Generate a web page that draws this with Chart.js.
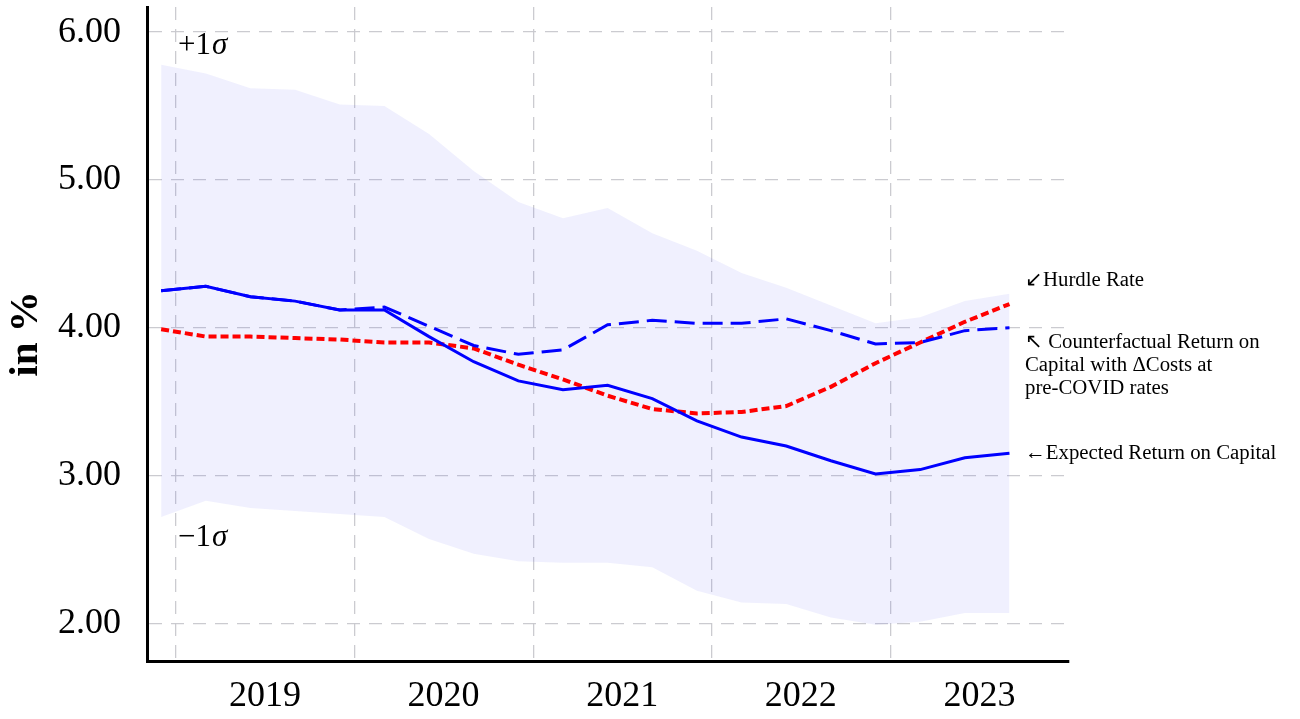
<!DOCTYPE html>
<html>
<head>
<meta charset="utf-8">
<script src="https://cdn.jsdelivr.net/npm/chart.js@4"></script>
<style>
  html, body { margin: 0; padding: 0; background: #ffffff; }
  #wrap { width: 1300px; height: 719px; position: relative; }
</style>
</head>
<body>
<div id="wrap"><canvas id="c"></canvas></div>
<script>
// ---- data ----
const dates = ['2018-12','2019-03','2019-06','2019-09','2019-12','2020-03','2020-06','2020-09','2020-12','2021-03',
               '2021-06','2021-09','2021-12','2022-03','2022-06','2022-09','2022-12','2023-03','2023-06','2023-09'];
const expectedReturn = [4.25, 4.28, 4.21, 4.18, 4.12, 4.12, 3.94, 3.77, 3.64, 3.58,
                        3.61, 3.52, 3.37, 3.26, 3.20, 3.10, 3.01, 3.04, 3.12, 3.15];
const counterfactualReturn = [4.25, 4.28, 4.21, 4.18, 4.12, 4.14, 4.01, 3.88, 3.82, 3.85,
                              4.02, 4.05, 4.03, 4.03, 4.06, 3.98, 3.89, 3.90, 3.98, 4.00];
const hurdleRate = [3.99, 3.94, 3.94, 3.93, 3.92, 3.90, 3.90, 3.86, 3.75, 3.65,
                    3.54, 3.45, 3.42, 3.43, 3.47, 3.60, 3.76, 3.90, 4.04, 4.16];
const bandUpper = [5.78, 5.72, 5.62, 5.61, 5.51, 5.50, 5.31, 5.06, 4.85, 4.74,
                   4.81, 4.64, 4.52, 4.37, 4.27, 4.15, 4.03, 4.07, 4.18, 4.23];
const bandLower = [2.72, 2.83, 2.78, 2.76, 2.74, 2.72, 2.57, 2.47, 2.42, 2.41,
                   2.41, 2.38, 2.22, 2.14, 2.13, 2.04, 1.99, 2.01, 2.07, 2.07];
const yearTicks = [2019, 2020, 2021, 2022, 2023];
const yTicks = [2, 3, 4, 5, 6];
const labelHurdle = '↙Hurdle Rate';
const labelCounterfactual = ['↖ Counterfactual Return on', 'Capital with ΔCosts at', 'pre-COVID rates'];
const labelExpected = '←Expected Return on Capital';
const labelPlus = ['+1', 'σ'];
const labelMinus = ['−1', 'σ'];

// ---- helpers ----
const toYear = s => { const [y, m] = s.split('-').map(Number); return y + (m - 1) / 12; };
const xs = dates.map(toYear);
const pts = arr => arr.map((v, i) => ({ x: xs[i], y: v }));

const SERIF = '"Liberation Serif", "Times New Roman", serif';

const annotPlugin = {
  id: 'annot',
  afterDatasetsDraw(chart) {
    const { ctx, chartArea } = chart;
    const xS = chart.scales.x, yS = chart.scales.y;
    ctx.save();
    ctx.fillStyle = '#000';
    ctx.textBaseline = 'alphabetic';
    ctx.textAlign = 'left';
    const drawSigma = (parts, x, y) => {
      ctx.font = '31px ' + SERIF;
      ctx.fillText(parts[0], x, y);
      const w = ctx.measureText(parts[0]).width;
      ctx.font = 'italic 31px ' + SERIF;
      ctx.fillText(parts[1], x + w + 1, y);
    };
    const x0 = xS.getPixelForValue(yearTicks[0]) + 2;
    drawSigma(labelPlus, x0, yS.getPixelForValue(5.852));
    drawSigma(labelMinus, x0, yS.getPixelForValue(2.52));
    const ax = chartArea.right - 44;
    ctx.font = '20.8px ' + SERIF;
    ctx.fillText(labelHurdle, ax, yS.getPixelForValue(4.284));
    const cy = yS.getPixelForValue(3.865);
    labelCounterfactual.forEach((t, i) => ctx.fillText(t, ax, cy + i * 23));
    ctx.fillText(labelExpected, ax, yS.getPixelForValue(3.115));
    ctx.restore();
  }
};

const gridColor = 'rgba(200,200,206,0.95)';

new Chart(document.getElementById('c'), {
  type: 'line',
  data: {
    datasets: [
      { label: 'Expected Return on Capital', data: pts(expectedReturn), borderColor: '#0000ff',
        borderWidth: 3, pointRadius: 0, tension: 0, fill: false },
      { label: 'Counterfactual Return on Capital', data: pts(counterfactualReturn), borderColor: '#0000ff',
        borderWidth: 3, borderDash: [20, 8], pointRadius: 0, tension: 0, fill: false },
      { label: 'Hurdle Rate', data: pts(hurdleRate), borderColor: '#ff0000',
        borderWidth: 4, borderDash: [8, 4], pointRadius: 0, tension: 0, fill: false },
      { label: '+1 sigma', data: pts(bandUpper), borderWidth: 0, borderColor: 'rgba(0,0,0,0)',
        backgroundColor: 'rgba(40,40,235,0.07)', pointRadius: 0, tension: 0, fill: '+1' },
      { label: '-1 sigma', data: pts(bandLower), borderWidth: 0, borderColor: 'rgba(0,0,0,0)',
        pointRadius: 0, tension: 0, fill: false }
    ]
  },
  options: {
    responsive: true,
    maintainAspectRatio: false,
    animation: false,
    layout: { padding: { left: 0, right: 231, top: 7, bottom: 0 } },
    plugins: { legend: { display: false }, tooltip: { enabled: false } },
    scales: {
      x: {
        type: 'linear',
        min: 2018.8375,
        max: 2024,
        afterBuildTicks: s => { s.ticks = yearTicks.map(v => ({ value: v })); },
        afterFit: s => { s.height = 58; s.paddingLeft = 0; s.paddingRight = 0; },
        grid: { color: gridColor, lineWidth: 1.3, drawTicks: false },
        border: { display: true, color: '#000', width: 3, dash: [13, 9] },
        ticks: {
          font: { family: SERIF, size: 36 },
          color: '#000',
          padding: 14,
          labelOffset: 89,
          maxRotation: 0,
          callback: v => String(v)
        }
      },
      y: {
        type: 'linear',
        min: 1.745,
        max: 6.17,
        afterBuildTicks: s => { s.ticks = yTicks.map(v => ({ value: v })); },
        afterFit: s => { s.width = 147; s.paddingTop = 0; s.paddingBottom = 0; },
        grid: { color: gridColor, lineWidth: 1.3, drawTicks: false },
        border: { display: true, color: '#000', width: 3, dash: [13, 9] },
        title: {
          display: true,
          text: 'in %',
          font: { family: SERIF, size: 41, weight: 'bold' },
          color: '#000',
          padding: { top: 2, bottom: 0 }
        },
        ticks: {
          font: { family: SERIF, size: 36 },
          color: '#000',
          padding: 26,
          callback: v => Number(v).toFixed(2)
        }
      }
    }
  },
  plugins: [annotPlugin]
});
</script>
</body>
</html>
